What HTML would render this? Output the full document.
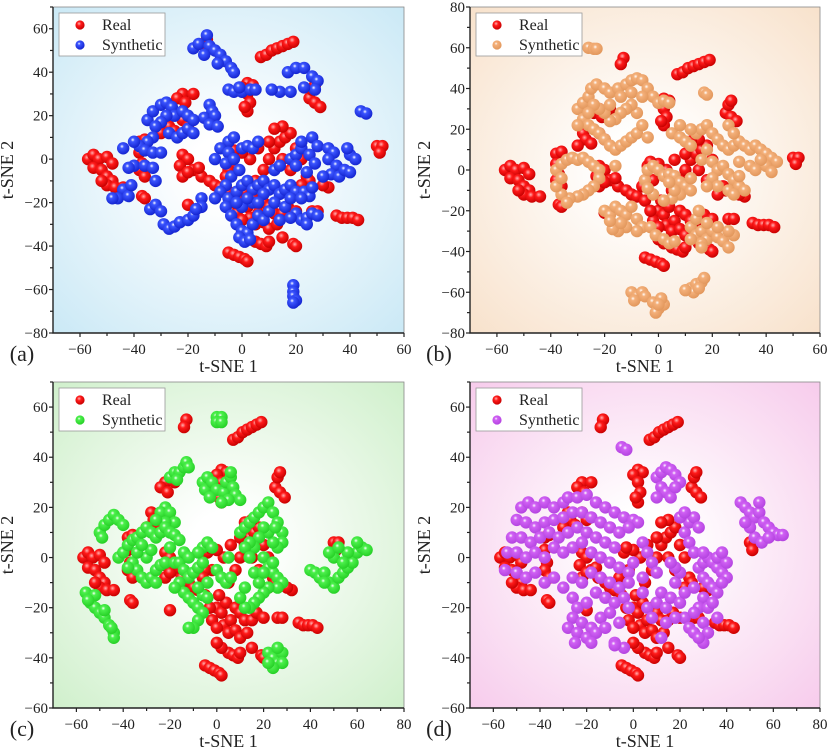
<!DOCTYPE html>
<html><head><meta charset="utf-8">
<style>
html,body{margin:0;padding:0;background:#fff;}
svg{display:block;}
text{font-family:"Liberation Serif",serif;fill:#222;}
</style></head>
<body>
<svg id="fig" width="830" height="750" viewBox="0 0 830 750" xmlns="http://www.w3.org/2000/svg">
<defs>
<radialGradient id="bgA" cx="50%" cy="50%" r="70%"><stop offset="0.15" stop-color="#ffffff"/><stop offset="1" stop-color="#cbe9f6"/></radialGradient>
<radialGradient id="bgB" cx="50%" cy="50%" r="70%"><stop offset="0.15" stop-color="#ffffff"/><stop offset="1" stop-color="#f8e2cc"/></radialGradient>
<radialGradient id="bgC" cx="50%" cy="50%" r="70%"><stop offset="0.15" stop-color="#ffffff"/><stop offset="1" stop-color="#d0f0cc"/></radialGradient>
<radialGradient id="bgD" cx="50%" cy="50%" r="70%"><stop offset="0.15" stop-color="#ffffff"/><stop offset="1" stop-color="#f7ccec"/></radialGradient>
<radialGradient id="mRed" cx="40%" cy="35%" r="65%"><stop offset="0" stop-color="#ffb0b0"/><stop offset="0.35" stop-color="#ff1a1a"/><stop offset="1" stop-color="#c80000"/></radialGradient>
<radialGradient id="mBlue" cx="40%" cy="35%" r="65%"><stop offset="0" stop-color="#ffffff"/><stop offset="0.25" stop-color="#3b55ff"/><stop offset="1" stop-color="#1424d0"/></radialGradient>
<radialGradient id="mOrange" cx="40%" cy="35%" r="65%"><stop offset="0" stop-color="#ffffff"/><stop offset="0.25" stop-color="#f4b07a"/><stop offset="1" stop-color="#e2975c"/></radialGradient>
<radialGradient id="mGreen" cx="40%" cy="35%" r="65%"><stop offset="0" stop-color="#ffffff"/><stop offset="0.25" stop-color="#4cf04c"/><stop offset="1" stop-color="#26d026"/></radialGradient>
<radialGradient id="mPurple" cx="40%" cy="35%" r="65%"><stop offset="0" stop-color="#ffffff"/><stop offset="0.25" stop-color="#d060f4"/><stop offset="1" stop-color="#b444e0"/></radialGradient>
</defs>
</svg>
<script>
// ---- data (t-SNE coordinates; flat [x,y,...]) ----
const realPts = [7,47,9,48,11,50,13,51,15,52,17,53,19,54,-13,55,-14,52,
2,35,4,34,0,33,2,30,3,26,2,22,1,24,25,28,27,26,29,24,26,32,27,34,
-22,30,-18,30,-24,28,-21,26,-28,18,-27,15,-25,13,-30,12,-22,18,-20,15,
-57,0,-55,2,-53,0,-55,-4,-52,-5,-50,-8,-48,-10,-50,-12,-47,-13,-44,-13,-50,1,-48,-2,-52,-10,
-38,8,-36,9,-38,3,-37,-2,-38,-5,-36,-8,-37,-17,-36,-18,
-22,2,-20,0,-23,-3,-18,-5,-15,-8,-12,-10,-10,-12,-8,-13,-5,-15,-22,-8,-20,-6,-16,-4,-20,-21,
0,-20,2,-22,4,-18,-2,-25,3,-27,6,-25,8,-20,10,-22,12,-25,-3,-20,0,-28,5,-30,8,-29,10,-32,13,-30,15,-25,17,-22,20,-24,
1,-15,5,-10,8,-5,10,0,12,5,14,8,16,10,18,12,15,15,12,14,20,5,22,0,18,-5,24,-8,25,-10,22,-12,15,0,10,8,6,5,3,0,-2,-5,0,3,
5,-38,7,-39,9,-40,10,-38,2,-36,0,-34,15,-36,19,-39,20,-40,
-5,-43,-3,-44,-1,-45,1,-46,2,-47,35,-26,37,-27,39,-27,41,-27,43,-28,26,-24,28,-24,
50,6,52,6,51,3,32,-13,30,-12,-5,-5,-6,-8,-4,2,-3,4];

const synA = [-18,51,-16,53,-13,57,-12,52,-10,50,-8,48,-6,45,-4,42,-3,40,-14,48,-9,44,
-5,32,-3,31,0,31,3,32,5,32,-1,33,17,40,20,42,23,42,26,38,28,36,27,32,23,33,14,31,18,31,11,32,44,22,46,21,
-12,25,-11,22,-14,19,-10,20,-12,16,-9,15,
-35,18,-33,22,-30,25,-28,26,-26,24,-25,20,-28,20,-30,17,-32,15,-27,12,-24,10,-22,12,-20,14,-22,22,-20,20,-18,18,-18,12,
-33,10,-35,8,-38,6,-40,8,-36,4,-33,3,-30,3,-44,5,-40,-3,-42,-4,-36,-3,-33,-4,
-32,-10,-44,-14,-46,-18,-48,-18,-42,-17,-41,-12,
-34,-23,-32,-21,-30,-24,-29,-30,-27,-32,-25,-31,-23,-29,-20,-28,-18,-26,-15,-18,-15,-22,-17,-23,
-5,8,-3,10,-8,5,-5,3,-10,0,-6,-2,-3,0,0,5,2,6,4,5,6,8,-4,-8,-6,-12,-8,-15,-10,-18,-5,-18,-2,-15,0,-12,2,-10,4,-14,6,-12,8,-10,10,-14,12,-12,14,-16,16,-14,18,-12,20,-15,
-6,-22,-4,-26,-2,-30,0,-33,2,-34,4,-30,6,-26,8,-28,10,-24,12,-20,14,-28,16,-22,18,-18,4,-20,0,-22,-2,-20,2,-18,8,-16,6,-20,-1,-36,1,-38,3,-37,-1,-5,12,-5,14,-3,
18,0,20,2,22,5,25,2,27,-2,20,-3,24,-6,22,8,26,10,28,6,23,-15,25,-17,26,-13,22,-18,
20,-25,22,-28,24,-27,26,-25,28,-26,24,-30,18,-27,
32,5,34,3,32,0,35,-3,33,-7,36,-8,38,-5,40,-6,40,2,42,0,39,5,30,-8,
19,-58,19,-61,19,-63,20,-65,19,-66];

const synB = [-26,60,-24,59.5,-23,59.5,
-30,30,-28,33,-26,36,-25,40,-23,42,-20,40,-18,38,-15,40,-12,42,-10,44,-8,45,-6,44,-4,40,-2,36,0,33,2,34,4,33,
-28,25,-26,22,-24,20,-22,18,-20,15,-18,12,-16,10,-14,12,-12,14,-10,16,-8,18,-6,22,-8,28,-10,32,-12,30,-14,28,-16,25,-18,24,-20,28,-22,30,-24,32,-18,32,-14,36,-10,38,-6,36,-26,28,-30,22,-4,16,
17,38,18,37,
5,18,8,16,10,14,12,12,14,18,16,20,18,22,20,18,22,15,24,12,26,10,28,12,30,14,32,12,34,10,36,12,38,10,40,8,42,6,44,4,40,2,38,5,12,20,8,22,26,22,28,18,18,10,16,5,20,4,22,0,24,2,26,-2,28,-5,30,-8,32,-10,20,-4,22,-8,26,-10,28,-12,18,-8,30,4,34,2,36,0,42,-1,30,-3,
-38,0,-36,3,-34,5,-32,6,-30,5,-28,6,-26,4,-24,2,-22,0,-22,-4,-24,-8,-26,-10,-28,-12,-30,-13,-33,-14,-36,-12,-38,-8,-36,-4,-34,-16,-16,2,
-5,-5,-4,0,-2,2,0,0,2,-3,4,-2,6,-3,8,-6,10,-8,8,-12,5,-14,2,-15,-2,-12,-4,-9,6,-10,12,-10,12,-4,4,-6,
-20,-20,-18,-22,-16,-18,-14,-20,-12,-22,-10,-18,-8,-24,-6,-28,-8,-30,-12,-28,-15,-30,-17,-29,-14,-26,-18,-25,
-3,-28,-1,-32,2,-34,4,-36,6,-35,
12,-28,14,-32,16,-30,18,-34,20,-30,22,-33,24,-35,26,-38,28,-32,26,-30,22,-28,16,-36,14,-24,18,-26,15,-20,16,-38,12,-34,
-10,-60,-8,-62,-6,-60,-9,-64,-5,-62,-2,-65,0,-68,2,-66,1,-63,-1,-70,0,-66,
12,-58,14,-56,16,-55,17,-53,13,-60,10,-59,15,-58];

const synC = [0,56,2,56,0,54,2,54,
-20,32,-18,34,-16,34,-14,36,-13,38,-12,36,-17,31,
-6,30,-5,27,-4,32,-2,30,0,27,3,26,4,30,6,32,7,28,8,25,10,23,5,23,-3,24,2,22,6,34,
-22,20,-24,18,-20,18,-18,14,-22,14,-26,15,
-50,10,-48,13,-46,15,-44,17,-42,15,-40,13,-49,8,
-42,0,-40,2,-38,5,-36,7,-34,8,-32,10,-30,12,-28,10,-26,8,-24,10,-22,12,-20,10,-18,9,-16,7,-36,-2,-34,-5,-32,-8,-30,-10,-28,-8,-26,-5,-24,-3,-22,-2,-30,0,-28,3,-34,2,-38,-4,-26,-10,-20,4,-18,-2,-32,5,
-16,-2,-14,-5,-12,-8,-10,-6,-8,-4,-6,-2,-6,4,-4,6,-2,4,-8,2,-14,2,-16,-10,-14,-14,-12,-16,-10,-18,-8,-20,-6,-22,-8,-25,-10,-28,-12,-28,-6,-15,-4,-10,-18,-12,-12,0,-4,-16,-8,-12,
0,-5,2,-8,4,-10,6,-8,5,0,
10,10,12,12,14,14,16,16,18,18,20,20,22,22,24,18,26,14,28,10,28,6,26,4,24,6,22,10,20,12,18,8,16,4,14,6,12,4,14,0,20,0,22,-4,24,-6,26,-8,28,-10,26,-12,22,-12,20,-14,18,-16,16,-18,14,-20,12,-20,10,-16,12,-12,18,-10,16,-6,20,-6,24,-2,25,12,
40,-5,42,-6,44,-8,46,-6,48,-10,50,-12,52,-8,54,-6,56,-4,58,-2,60,2,62,4,64,3,60,6,56,2,50,0,48,2,52,4,54,-2,46,-10,
-56,-14,-54,-18,-52,-20,-50,-22,-48,-24,-46,-27,-44,-30,-44,-32,-52,-15,-55,-17,-48,-21,-45,-28,
22,-38,24,-40,26,-42,28,-38,28,-42,24,-44,22,-42,26,-36];

const synD = [-5,44,-3,43,
10,32,12,34,14,36,16,35,18,33,20,30,12,28,14,26,16,24,18,28,10,24,
46,22,48,20,50,18,52,16,54,18,56,14,58,12,60,10,62,9,64,9,52,8,55,6,50,12,48,14,58,8,54,22,
-48,20,-45,22,-42,20,-38,22,-34,20,-30,22,-28,24,-24,24,-20,25,-16,22,-12,20,-8,18,-4,16,0,15,2,14,
-50,15,-46,14,-42,12,-38,14,-34,15,-30,16,-26,18,-22,18,-18,16,-14,14,-10,12,-6,10,-2,12,
-52,8,-48,8,-44,6,-40,8,-36,10,-32,8,-28,10,-24,12,-20,10,-16,8,-12,6,-8,4,
-54,2,-50,2,-46,0,-42,2,-38,0,-34,4,-30,2,-26,4,-22,6,-18,2,-14,0,-10,-2,-6,-4,-2,-6,
-55,-5,-50,-6,-46,-8,-42,-6,-38,-10,-34,-8,-30,-12,-26,-8,-22,-10,-18,-6,-14,-8,-10,-10,-6,-12,-2,-10,0,-2,
-26,-16,-24,-20,-20,-18,-16,-14,-12,-16,-8,-18,-4,-16,-2,-20,-26,-24,-22,-26,-18,-28,-14,-24,-10,-22,-6,-26,
-28,-28,-24,-30,-20,-32,-16,-30,-12,-28,-8,-34,-4,-36,-25,-34,-18,-34,
4,6,6,2,8,-2,10,-6,4,-8,4,-14,6,-20,8,-24,10,-18,12,-14,14,-20,16,-16,18,-10,20,-18,22,-24,24,-28,26,-30,18,-24,14,-26,20,-6,18,-4,16,-2,
22,10,24,14,26,16,20,16,22,18,28,12,24,6,26,2,28,-4,30,-2,32,0,34,-2,36,-4,38,-6,40,-8,30,-8,32,-10,34,-12,36,-14,38,-10,30,-16,28,-20,32,-20,34,-18,36,-24,30,-26,32,-30,30,-34,28,-32,26,-22,22,-14,26,-12,30,2,36,0,40,-2,38,2,12,-32,-8,-35];

const xTicksAB = [-60,-40,-20,0,20,40,60];
const xTicksCD = [-60,-40,-20,0,20,40,60,80];
const yTicksA = [-80,-60,-40,-20,0,20,40,60];
const yTicksB = [-80,-60,-40,-20,0,20,40,60,80];
const yTicksCD = [-60,-40,-20,0,20,40,60];
const seriesNames = ["Real","Synthetic"];

const NS = "http://www.w3.org/2000/svg";
const svg = document.getElementById('fig');
function mk(tag, attrs, parent){
  const e = document.createElementNS(NS, tag);
  for (const k in attrs) e.setAttribute(k, attrs[k]);
  (parent||svg).appendChild(e);
  return e;
}
function fmt(v){ return v<0 ? "\u2212"+(-v) : String(v); }

const panels = [
  {id:'a', L:53, R:404, T:7, B:333, x0:-70, x1:60, y0:-80, y1:70, xt:xTicksAB, yt:yTicksA, bg:'url(#bgA)', syn:synA, fill:'url(#mBlue)'},
  {id:'b', L:470, R:820, T:7, B:333, x0:-70, x1:60, y0:-80, y1:80, xt:xTicksAB, yt:yTicksB, bg:'url(#bgB)', syn:synB, fill:'url(#mOrange)'},
  {id:'c', L:53, R:404, T:382, B:708, x0:-70, x1:80, y0:-60, y1:70, xt:xTicksCD, yt:yTicksCD, bg:'url(#bgC)', syn:synC, fill:'url(#mGreen)'},
  {id:'d', L:470, R:820, T:382, B:708, x0:-70, x1:80, y0:-60, y1:70, xt:xTicksCD, yt:yTicksCD, bg:'url(#bgD)', syn:synD, fill:'url(#mPurple)'}
];

panels.forEach(p=>{
  const g = mk('g', {});
  
  
  const sx = v => p.L + (v - p.x0) / (p.x1 - p.x0) * (p.R - p.L);
  const sy = v => p.B - (v - p.y0) / (p.y1 - p.y0) * (p.B - p.T);
  const bg = mk('rect', {x:p.L, y:p.T, width:p.R-p.L, height:p.B-p.T, fill:p.bg}, g);
  
  
  const pts = mk('g', {}, g);
  
  
  function drawSeries(arr, fill, name){
    const sg = mk('g', {}, pts);
    
    
    for (let i=0;i<arr.length;i+=2){
      const c = mk('circle', {cx:sx(arr[i]).toFixed(1), cy:sy(arr[i+1]).toFixed(1), r:6.2, fill:fill}, sg);
      
      
    }
  }
  drawSeries(realPts, 'url(#mRed)', 'real');
  drawSeries(p.syn, p.fill, 'synthetic');
  mk('rect', {x:p.L, y:p.T, width:p.R-p.L, height:p.B-p.T, fill:'none', stroke:'#888', 'stroke-width':0.8}, g);
  const ax = mk('path', {d:`M${p.L},${p.T}V${p.B}H${p.R}`, fill:'none', stroke:'#222', 'stroke-width':1.4}, g);
  
  
  for (let v=p.x0+10; v<=p.x1; v+=10){
    const major = p.xt.indexOf(v)>=0;
    mk('line', {x1:sx(v), x2:sx(v), y1:p.B, y2:p.B+(major?4:3), stroke:'#222', 'stroke-width':1.2}, g);
  }
  p.xt.forEach(v=>{
    const t = mk('text', {x:sx(v), y:p.B+21, 'text-anchor':'middle', 'font-size':15}, g);
    t.textContent = fmt(v);
    
    
  });
  for (let v=p.y0; v<=p.y1; v+=10){
    const major = p.yt.indexOf(v)>=0;
    mk('line', {x1:p.L-(major?4:3), x2:p.L, y1:sy(v), y2:sy(v), stroke:'#222', 'stroke-width':1.2}, g);
  }
  p.yt.forEach(v=>{
    const t = mk('text', {x:p.L-5, y:sy(v)+5, 'text-anchor':'end', 'font-size':15}, g);
    t.textContent = fmt(v);
    
    
  });
  const xt = mk('text', {x:(p.L+p.R)/2, y:p.B+39, 'text-anchor':'middle', 'font-size':18}, g);
  xt.textContent = 't-SNE 1';
  
  
  const yx = p.L-40, yy=(p.T+p.B)/2;
  const yt = mk('text', {x:yx, y:yy, 'text-anchor':'middle', 'font-size':18, transform:`rotate(-90 ${yx} ${yy})`}, g);
  yt.textContent = 't-SNE 2';
  
  
  const pl = mk('text', {x:p.L-31, y:p.B+28, 'text-anchor':'middle', 'font-size':22}, g);
  pl.textContent = '('+p.id+')';
  
  
  const lg = mk('g', {}, g);
  
  
  const lx = p.L+6, ly = p.T+6;
  mk('rect', {x:lx, y:ly, width:106, height:43, fill:'#fff', stroke:'#999', 'stroke-width':0.8}, lg);
  [['url(#mRed)',seriesNames[0]],[p.fill,seriesNames[1]]].forEach((s,i)=>{
    const e = mk('g', {}, lg);
    
    
    mk('circle', {cx:lx+21, cy:ly+12+i*20, r:4.6, fill:s[0]}, e);
    const t = mk('text', {x:lx+43, y:ly+17+i*20, 'font-size':16}, e);
    t.textContent = s[1];
  });
});
</script>
</body></html>
